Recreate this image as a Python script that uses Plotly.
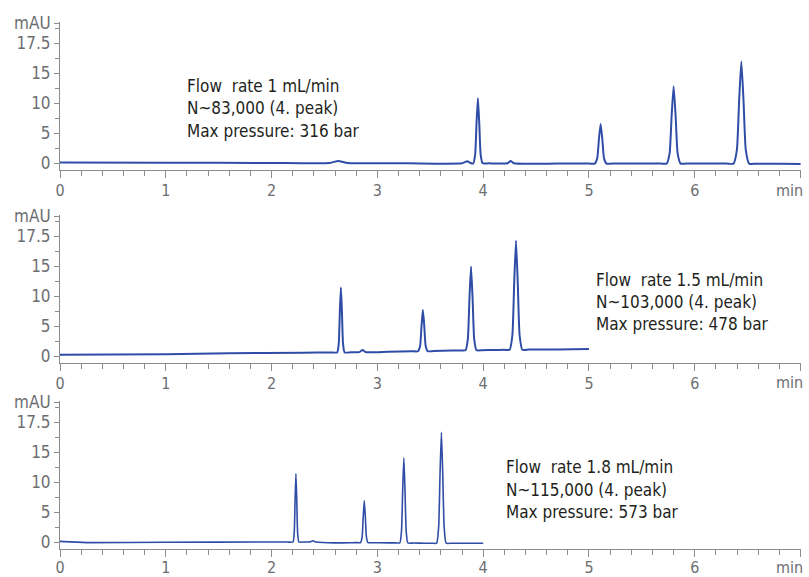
import plotly.graph_objects as go

# ---------------- data ----------------
# Panel 1: flow 1 mL/min
t1 = [0.0, 1.0, 2.0, 2.55, 2.63, 2.72, 3.3, 3.8, 3.85, 3.88, 3.905, 3.924, 3.937, 3.95, 3.963, 3.976, 3.995,
      4.05, 4.23, 4.26, 4.29, 4.7, 5.0, 5.054, 5.078, 5.094, 5.11, 5.126, 5.142, 5.166, 5.22, 5.5, 5.68, 5.734,
      5.762, 5.781, 5.80, 5.819, 5.838, 5.866, 5.92, 6.1, 6.3, 6.366, 6.398, 6.419, 6.44, 6.461, 6.482, 6.514,
      6.58, 6.8, 7.0]
v1 = [0.1, 0.05, 0.0, 0.0, 0.35, 0.0, -0.05, -0.05, 0.3, 0.0, -0.1, 1.4, 6.6, 10.8, 6.6, 1.4, -0.05,
      -0.05, -0.05, 0.35, -0.05, -0.1, -0.1, -0.1, 0.8, 4.0, 6.5, 4.0, 0.8, -0.1, -0.1, -0.1, -0.1, -0.1,
      1.6, 7.8, 12.8, 7.8, 1.6, -0.1, -0.1, -0.1, -0.1, -0.1, 2.2, 10.3, 16.9, 10.3, 2.2, -0.1,
      -0.12, -0.12, -0.15]

# Panel 2: flow 1.5 mL/min
t2 = [0.0, 1.0, 1.6, 2.3, 2.56, 2.62, 2.635, 2.645, 2.655, 2.665, 2.675, 2.69, 2.75, 2.83, 2.86, 2.89, 3.1,
      3.33, 3.385, 3.404, 3.417, 3.43, 3.443, 3.456, 3.475, 3.53, 3.7, 3.78, 3.833, 3.855, 3.87, 3.885, 3.9,
      3.915, 3.937, 3.99, 4.1, 4.2, 4.25, 4.276, 4.293, 4.31, 4.327, 4.344, 4.37, 4.43, 4.7, 5.0]
v2 = [0.2, 0.3, 0.45, 0.55, 0.6, 0.6, 2.1, 7.3, 11.4, 7.3, 2.1, 0.6, 0.62, 0.65, 1.0, 0.65, 0.7,
      0.78, 0.8, 1.7, 5.0, 7.7, 5.0, 1.7, 0.8, 0.82, 0.9, 0.93, 0.95, 2.8, 9.5, 14.9, 9.5,
      2.8, 0.95, 0.97, 1.0, 1.03, 1.05, 3.5, 12.1, 19.2, 12.1, 3.5, 1.05, 1.07, 1.1, 1.15]

# Panel 3: flow 1.8 mL/min
t3 = [0.0, 0.25, 1.0, 2.0, 2.15, 2.202, 2.214, 2.222, 2.23, 2.238, 2.246, 2.258, 2.3, 2.36, 2.39, 2.42, 2.6,
      2.8, 2.841, 2.856, 2.866, 2.876, 2.886, 2.896, 2.911, 2.96, 3.1, 3.17, 3.212, 3.228, 3.239, 3.25, 3.261,
      3.272, 3.288, 3.34, 3.45, 3.52, 3.56, 3.579, 3.592, 3.605, 3.618, 3.631, 3.65, 3.7, 3.8, 4.0]
v3 = [0.1, -0.1, -0.05, 0.0, 0.0, 0.0, 1.5, 7.0, 11.4, 7.0, 1.5, 0.0, 0.0, 0.0, 0.2, 0.0, -0.15,
      -0.1, -0.1, 0.9, 4.2, 6.9, 4.2, 0.9, -0.1, -0.12, -0.15, -0.15, -0.15, 1.9, 8.6, 14.05, 8.6,
      1.9, -0.15, -0.17, -0.2, -0.2, -0.2, 2.5, 11.2, 18.3, 11.2, 2.5, -0.2, -0.2, -0.2, -0.2]

x_tickvals = [0, 1, 2, 3, 4, 5, 6, 7]
x_ticktext = ["0", "1", "2", "3", "4", "5", "6", ""]
x_unit = "min"
y_tickvals = [0, 5, 10, 15, 20, 23.3]
y_ticktext = ["0", "5", "10", "15", "17.5", "mAU"]

notes = [
    ["Flow  rate 1 mL/min", "N~83,000 (4. peak)", "Max pressure: 316 bar"],
    ["Flow  rate 1.5 mL/min", "N~103,000 (4. peak)", "Max pressure: 478 bar"],
    ["Flow  rate 1.8 mL/min", "N~115,000 (4. peak)", "Max pressure: 573 bar"],
]

# ---------------- layout ----------------
W, H = 809, 577
ML, MR = 60, 8
PW = W - ML - MR
FONT = "DejaVu Sans Condensed, Liberation Sans Narrow, sans-serif"
LINE = "#2f4da6"
GREY = "#6d6e71"
AXC = "#8c8c8c"
YR = [-1.2, 23.5]
XR = [0, 7.004]
PXU = 6.0
zero_px = [163, 356, 542]
note_pos = [(185, [86, 108, 131]), (594, [280, 302, 324]), (504, [467, 490, 512])]
unit_px_y = [190, 383, 567]
standoff = [-1, -1, -3]
widths = [2.0, 2.0, 1.6]

fig = go.Figure()
series = [(t1, v1), (t2, v2), (t3, v3)]
layout = dict(width=W, height=H, margin=dict(l=ML, r=MR, t=0, b=0),
              paper_bgcolor="white", plot_bgcolor="white", showlegend=False,
              font=dict(family=FONT, size=17, color=GREY))
ann = []
for i, (t, v) in enumerate(series):
    sfx = "" if i == 0 else str(i + 1)
    fig.add_trace(go.Scatter(x=t, y=v, mode="lines",
                             line=dict(color=LINE, width=widths[i], shape="spline", smoothing=0.5),
                             xaxis="x" + sfx, yaxis="y" + sfx, hoverinfo="skip"))
    bot = zero_px[i] - YR[0] * PXU
    top = zero_px[i] - YR[1] * PXU
    layout["xaxis" + sfx] = dict(domain=[0, 1], range=XR, anchor="y" + sfx,
                                 tickvals=x_tickvals, ticktext=x_ticktext,
                                 showline=True, linecolor=AXC, linewidth=1,
                                 ticks="outside", ticklen=7, tickcolor=AXC, tickwidth=1,
                                 minor=dict(dtick=0.2, tick0=0, ticks="outside", ticklen=5,
                                            tickcolor=AXC, tickwidth=1),
                                 showgrid=False, zeroline=False, automargin=False,
                                 ticklabelstandoff=standoff[i], ticklabeloverflow="allow",
                                 tickfont=dict(family=FONT, size=16, color=GREY))
    layout["yaxis" + sfx] = dict(domain=[1 - bot / H, 1 - top / H], range=YR, anchor="x" + sfx,
                                 tickvals=y_tickvals, ticktext=y_ticktext,
                                 showline=True, linecolor=AXC, linewidth=1,
                                 ticks="outside", ticklen=5, tickcolor=AXC, tickwidth=1,
                                 minor=dict(dtick=2.5, tick0=0, ticks="outside", ticklen=4,
                                            tickcolor=AXC, tickwidth=1),
                                 showgrid=False, zeroline=False, automargin=False,
                                 tickfont=dict(family=FONT, size=17, color=GREY))
    # unit label "min" at the right end of each x axis
    ann.append(dict(text=x_unit, xref="paper", yref="paper",
                    x=(805 - ML) / PW, y=1 - unit_px_y[i] / H,
                    xanchor="right", yanchor="middle", showarrow=False,
                    font=dict(family=FONT, size=16, color=GREY)))
    px, ys = note_pos[i]
    for line, py in zip(notes[i], ys):
        ann.append(dict(text=line, xref="paper", yref="paper",
                        x=(px - ML) / PW, y=1 - py / H,
                        xanchor="left", yanchor="middle", showarrow=False,
                        font=dict(family=FONT, size=17, color="#231f20")))
layout["annotations"] = ann
fig.update_layout(**layout)
fig.write_html("out.html", config={"displayModeBar": False},
               post_script="document.body.style.margin='0px';document.body.style.overflow='hidden';")
